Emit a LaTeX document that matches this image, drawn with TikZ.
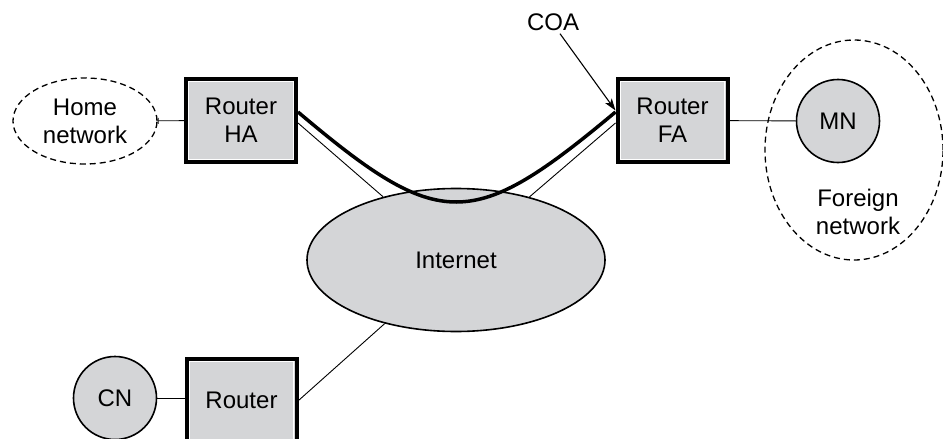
\documentclass[tikz,border=0pt]{standalone}
\usepackage{fontspec}
\setmainfont{Liberation Sans}
\usetikzlibrary{shapes.geometric,arrows.meta}
\definecolor{fillgray}{RGB}{212,213,215}
\begin{document}
\begin{tikzpicture}[x=1pt,y=-1pt,
  every node/.style={font=\fontsize{24}{28}\selectfont, align=center, inner sep=0pt},
  router/.style={rectangle, draw=black, line width=4pt, fill=fillgray, minimum width=110pt, minimum height=83pt},
  host/.style={circle, draw=black, line width=1.6pt, fill=fillgray, minimum size=83pt},
  net/.style={ellipse, draw=black, dash pattern=on 6pt off 4pt, line width=1.3pt},
  cloud/.style={ellipse, draw=black, line width=1.6pt, fill=fillgray, minimum width=298pt, minimum height=143pt},
  link/.style={line width=0.9pt},
  tunnel/.style={line width=3.5pt},
  pointer/.style={line width=1.1pt, -{Stealth[length=12pt,width=8pt,inset=3pt]}},
]
\useasboundingbox (0,0) rectangle (943,439);

% networks
\node[net, minimum width=144pt, minimum height=86pt] (home) at (85,121) {Home\\network};
\node[net, minimum width=178pt, minimum height=220pt] (foreign) at (854,150) {};
\node (fntext) at (858,212) {Foreign\\network};

% routers
\node[router] (ha) at (241,120.5) {Router\\HA};
\node[router] (fa) at (672.5,120.5) {Router\\FA};
\node[router] (rtr) at (241.5,400.5) {Router};
\foreach \r in {ha,fa,rtr}{
  \draw[white, line width=0.9pt] ([shift={(4.6pt,4.6pt)}]\r.south west) rectangle ([shift={(-4.6pt,-4.6pt)}]\r.north east);
}

% hosts
\node[host] (mn) at (838,121) {MN};
\node[host] (cn) at (115,398) {CN};

% internet
\node[cloud] (inet) at (456,260) {Internet};

% links
\draw[link, {Bar[width=6pt]}-] (home) -- (ha);
\draw[link] (fa) -- (mn);
\draw[link] (cn.east) -- (cn.east -| rtr.west);
\draw[link] ([yshift=-2.5pt]ha.east) -- (inet);
\draw[link] ([yshift=-2.5pt]fa.west) -- (inet);
\draw[link] (rtr.east) -- (inet);

% tunnel
\draw[tunnel] ([yshift=8.5pt]ha.east) .. controls (440,232) and (472,232) .. ([yshift=8.5pt]fa.west);

% COA
\node (coa) at (553,22) {COA};
\draw[pointer] ([xshift=7pt,yshift=-3pt]coa.south) -- ([yshift=10pt]fa.west);
\end{tikzpicture}
\end{document}
